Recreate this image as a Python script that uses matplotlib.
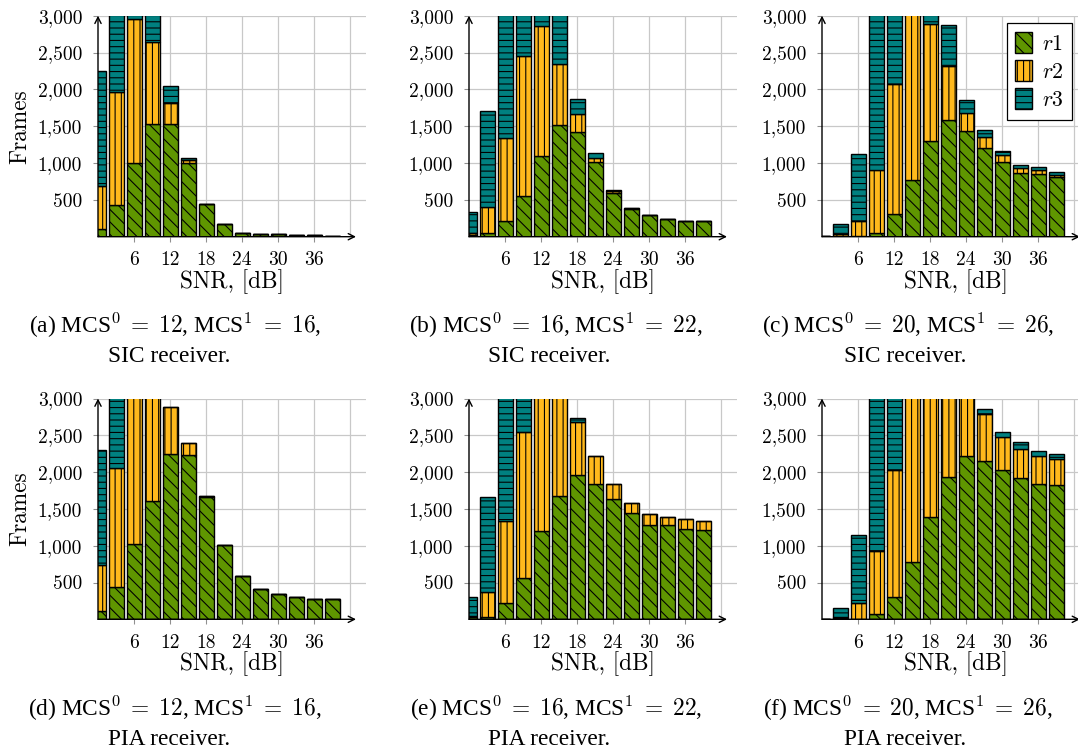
import matplotlib
matplotlib.use("Agg")
import matplotlib.pyplot as plt
import numpy as np
from matplotlib.patches import Patch

# ---------------- data ----------------
snr = [0, 3, 6, 9, 12, 15, 18, 21, 24, 27, 30, 33, 36, 39]
xticks = [6, 12, 18, 24, 30, 36]
yticks = [500, 1000, 1500, 2000, 2500, 3000]
ytick_labels = ["500", "1,000", "1,500", "2,000", "2,500", "3,000"]
series_names = ["$r1$", "$r2$", "$r3$"]

# (a) SIC, MCS0=12, MCS1=16
a_r1 = [100, 430, 1000, 1530, 1530, 1000, 445, 170, 50, 30, 30, 20, 20, 15]
a_r2 = [590, 1540, 1950, 1110, 280, 40, 0, 0, 0, 0, 0, 0, 0, 0]
a_r3 = [1560, 1630, 850, 760, 230, 30, 5, 0, 5, 0, 0, 0, 0, 0]
# (b) SIC, MCS0=16, MCS1=22
b_r1 = [20, 45, 210, 550, 1090, 1510, 1425, 1010, 600, 380, 290, 235, 210, 210]
b_r2 = [25, 355, 1130, 1900, 1770, 830, 235, 65, 25, 5, 0, 0, 0, 0]
b_r3 = [290, 1300, 2860, 1150, 440, 1060, 210, 55, 15, 5, 5, 5, 5, 2]
# (c) SIC, MCS0=20, MCS1=26
c_r1 = [5, 15, 5, 50, 310, 765, 1300, 1590, 1440, 1205, 1010, 860, 845, 810]
c_r2 = [3, 15, 205, 860, 1760, 2600, 1590, 730, 235, 145, 100, 70, 55, 32]
c_r3 = [5, 140, 910, 2700, 1400, 600, 400, 560, 180, 95, 55, 40, 40, 33]
# (d) PIA, MCS0=12, MCS1=16
d_r1 = [110, 445, 1020, 1610, 2245, 2235, 1660, 1005, 590, 410, 340, 300, 275, 275]
d_r2 = [625, 1615, 2300, 1700, 645, 160, 15, 0, 0, 0, 0, 0, 0, 0]
d_r3 = [1565, 1400, 400, 100, 0, 0, 0, 0, 0, 0, 0, 0, 0, 0]
# (e) PIA, MCS0=16, MCS1=22
e_r1 = [25, 25, 215, 560, 1200, 1675, 1960, 1840, 1630, 1440, 1280, 1275, 1230, 1215]
e_r2 = [20, 345, 1120, 1990, 2200, 1800, 725, 375, 210, 140, 155, 115, 130, 120]
e_r3 = [255, 1290, 2400, 900, 200, 100, 45, 0, 0, 0, 0, 0, 0, 0]
# (f) PIA, MCS0=20, MCS1=26
f_r1 = [3, 20, 5, 70, 300, 780, 1390, 1935, 2215, 2145, 2025, 1915, 1840, 1830]
f_r2 = [2, 10, 210, 855, 1730, 2500, 1900, 1300, 900, 640, 455, 405, 375, 350]
f_r3 = [3, 130, 930, 2600, 1300, 500, 300, 200, 100, 75, 60, 85, 70, 70]

captions = [
    (r"(a) MCS$^0\;=\;12$, MCS$^1\;=\;16$,", "SIC receiver."),
    (r"(b) MCS$^0\;=\;16$, MCS$^1\;=\;22$,", "SIC receiver."),
    (r"(c) MCS$^0\;=\;20$, MCS$^1\;=\;26$,", "SIC receiver."),
    (r"(d) MCS$^0\;=\;12$, MCS$^1\;=\;16$,", "PIA receiver."),
    (r"(e) MCS$^0\;=\;16$, MCS$^1\;=\;22$,", "PIA receiver."),
    (r"(f) MCS$^0\;=\;20$, MCS$^1\;=\;26$,", "PIA receiver."),
]

# ---------------- style ----------------
plt.rcParams["mathtext.fontset"] = "cm"
plt.rcParams["hatch.linewidth"] = 0.7
plt.rcParams["font.family"] = ["Liberation Serif", "DejaVu Serif"]

GREEN = "#5f9600"
ORANGE = "#ffb91c"
TEAL = "#008080"
GRID = "#c8c8c8"
HATCHES = ["\\\\\\", "|||", "---"]
COLORS = [GREEN, ORANGE, TEAL]

DPI = 112
W, H = 1078, 750
fig = plt.figure(figsize=(W / DPI, H / DPI), dpi=DPI)

XMAX = 44.7
px_per_unit = 6.0
ax_w = XMAX * px_per_unit
lefts = [98, 469, 822]
rows = [(15.7, 236.7), (398.5, 619.3)]

panels = [
    (a_r1, a_r2, a_r3), (b_r1, b_r2, b_r3), (c_r1, c_r2, c_r3),
    (d_r1, d_r2, d_r3), (e_r1, e_r2, e_r3), (f_r1, f_r2, f_r3),
]

cap_x = [(175, 169), (556, 549), (908, 905)]
cap_y = [(333, 362), (716, 745)]

for i, (r1, r2, r3) in enumerate(panels):
    row, col = divmod(i, 3)
    top, bot = rows[row]
    ax = fig.add_axes([lefts[col] / W, 1 - bot / H, ax_w / W, (bot - top) / H])
    r1 = np.array(r1, float)
    r2 = np.array(r2, float)
    r3 = np.array(r3, float)
    bottoms = [np.zeros_like(r1), r1, r1 + r2]
    for vals, b, c, h in zip([r1, r2, r3], bottoms, COLORS, HATCHES):
        ax.bar(snr, vals, bottom=b, width=2.5, color=c, edgecolor="black",
               hatch=h, linewidth=0.9, zorder=2)
    ax.set_xlim(0, XMAX)
    ax.set_ylim(0, 3000)
    ax.set_axisbelow(True)
    ax.grid(True, color=GRID, linewidth=0.8)
    ax.axvline(42, color=GRID, linewidth=0.8, zorder=0.5)
    for s in ax.spines.values():
        s.set_visible(False)
    ax.set_xticks(xticks, labels=[str(t) for t in xticks],
                  fontfamily="cmr10", fontsize=12.5)
    ax.set_yticks(yticks, labels=ytick_labels, fontfamily="cmr10", fontsize=12.5)
    ax.tick_params(axis="y", direction="out", length=3.2, width=0.7,
                   color="#909090", pad=7)
    ax.tick_params(axis="x", direction="out", length=3.2, width=0.7,
                   color="#909090", pad=6)
    ax.set_xlabel("SNR, [dB]", fontfamily="cmr10", fontsize=15, labelpad=0)
    if col == 0:
        ax.set_ylabel("Frames", fontfamily="cmr10", fontsize=15, labelpad=4)
    # axis arrows
    ax.annotate("", xy=(43, 0), xytext=(0, 0), xycoords="data",
                arrowprops=dict(arrowstyle="->", lw=0.9, color="black",
                                shrinkA=0, shrinkB=0),
                annotation_clip=False, zorder=5)
    ax.annotate("", xy=(0, 3000), xytext=(0, 0), xycoords="data",
                arrowprops=dict(arrowstyle="->", lw=0.9, color="black",
                                shrinkA=0, shrinkB=0),
                annotation_clip=False, zorder=5)
    if i == 2:
        handles = [Patch(facecolor=c, edgecolor="black", hatch=h, linewidth=0.9)
                   for c, h in zip(COLORS, HATCHES)]
        leg = ax.legend(handles, series_names, loc="upper right",
                        bbox_to_anchor=((1072 - 822) / ax_w, (236.7 - 23) / 221),
                        borderaxespad=0, fontsize=14, handlelength=0.75,
                        handleheight=1.1, handletextpad=0.45, labelspacing=0.25,
                        borderpad=0.4, fancybox=False, framealpha=1,
                        edgecolor="black")
        leg.get_frame().set_linewidth(0.8)
        leg.set_zorder(10)
    # captions
    l1, l2 = captions[i]
    x1, x2 = cap_x[col]
    y1, y2 = cap_y[row]
    fig.text(x1 / W, 1 - y1 / H, l1, ha="center", va="baseline", fontsize=15)
    fig.text(x2 / W, 1 - y2 / H, l2, ha="center", va="baseline", fontsize=15)

fig.savefig("out.png", dpi=DPI)
